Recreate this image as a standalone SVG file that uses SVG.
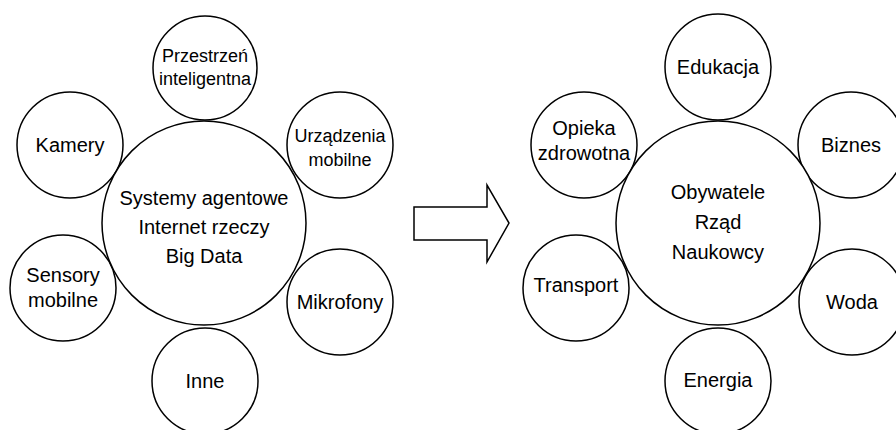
<svg xmlns="http://www.w3.org/2000/svg" width="896" height="430" viewBox="0 0 896 430">
  <style>
    .node circle { fill: #ffffff; stroke: #000000; stroke-width: 1.5; }
    .node text { font-family: "Liberation Sans", Arial, sans-serif; font-size: 20px; fill: #000000; text-anchor: middle; }
    .node text.small { font-size: 18px; }
    .arrow { fill: #ffffff; stroke: #000000; stroke-width: 1.5; stroke-linejoin: miter; }
  </style>
  <rect width="896" height="430" fill="#ffffff"/>

  <!-- left cluster: data sources -->
  <g id="przestrzen" class="node">
    <circle cx="205" cy="68" r="52"/>
    <text class="small" x="205" y="62">Przestrzeń</text>
    <text class="small" x="205" y="85">inteligentna</text>
  </g>
  <g id="kamery" class="node">
    <circle cx="70" cy="145" r="53"/>
    <text x="70" y="152">Kamery</text>
  </g>
  <g id="urzadzenia" class="node">
    <circle cx="340" cy="145" r="53"/>
    <text class="small" x="340" y="142">Urządzenia</text>
    <text class="small" x="340" y="166">mobilne</text>
  </g>
  <g id="sensory" class="node">
    <circle cx="63" cy="288" r="53"/>
    <text x="63" y="282">Sensory</text>
    <text x="63" y="307">mobilne</text>
  </g>
  <g id="mikrofony" class="node">
    <circle cx="340" cy="302" r="53"/>
    <text x="340" y="309">Mikrofony</text>
  </g>
  <g id="inne" class="node">
    <circle cx="205" cy="381" r="53"/>
    <text x="205" y="388">Inne</text>
  </g>
  <g id="systemy" class="node">
    <circle cx="204" cy="223" r="102"/>
    <text x="204" y="205">Systemy agentowe</text>
    <text x="204" y="234">Internet rzeczy</text>
    <text x="204" y="263">Big Data</text>
  </g>

  <!-- block arrow between the clusters -->
  <g id="connectors">
    <polygon class="arrow" points="414,207 487,207 487,185 509,223 487,262 487,240 414,240"/>
  </g>

  <!-- right cluster: application areas -->
  <g id="edukacja" class="node">
    <circle cx="718" cy="67" r="53"/>
    <text x="718" y="74">Edukacja</text>
  </g>
  <g id="opieka" class="node">
    <circle cx="584" cy="145" r="53"/>
    <text x="584" y="135">Opieka</text>
    <text x="584" y="160">zdrowotna</text>
  </g>
  <g id="biznes" class="node">
    <circle cx="851" cy="145" r="53"/>
    <text x="851" y="152">Biznes</text>
  </g>
  <g id="transport" class="node">
    <circle cx="576" cy="288" r="53"/>
    <text x="576" y="292">Transport</text>
  </g>
  <g id="woda" class="node">
    <circle cx="852" cy="302" r="53"/>
    <text x="852" y="309">Woda</text>
  </g>
  <g id="energia" class="node">
    <circle cx="718" cy="381" r="53"/>
    <text x="718" y="387">Energia</text>
  </g>
  <g id="obywatele" class="node">
    <circle cx="718" cy="223" r="102"/>
    <text x="718" y="199">Obywatele</text>
    <text x="718" y="229">Rząd</text>
    <text x="718" y="259">Naukowcy</text>
  </g>
</svg>
